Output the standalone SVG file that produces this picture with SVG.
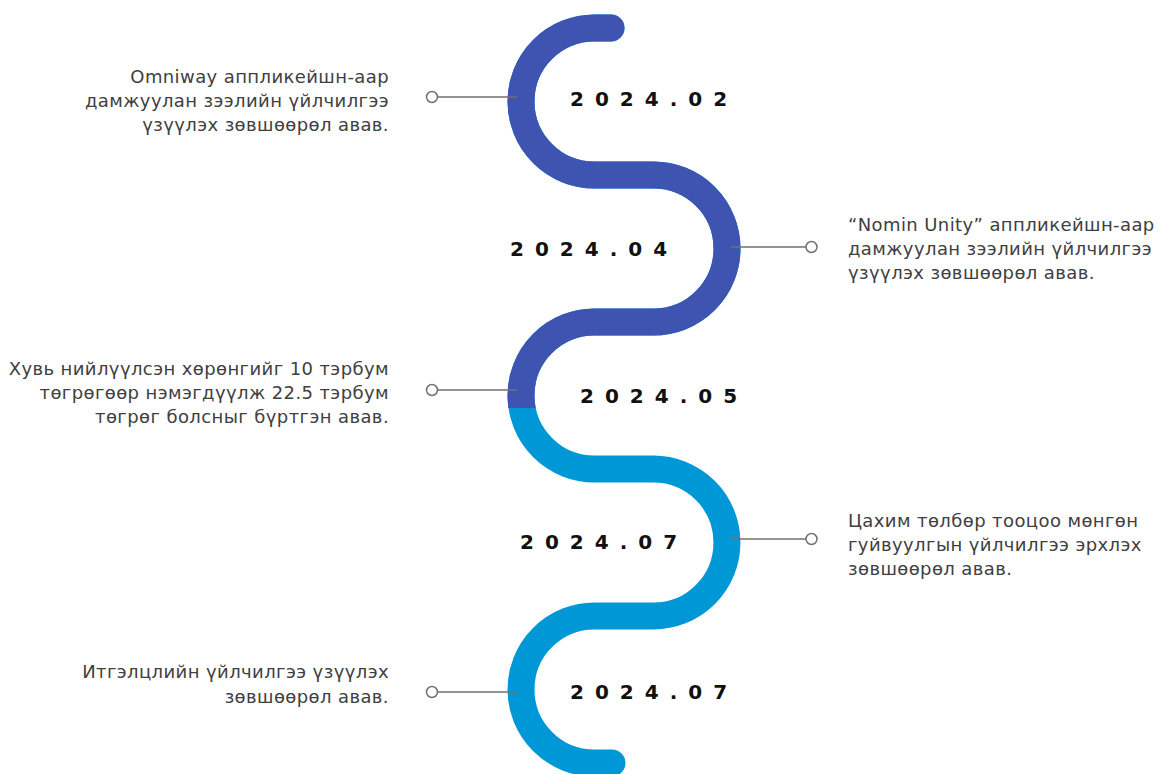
<svg xmlns="http://www.w3.org/2000/svg" width="1163" height="774" viewBox="0 0 1163 774">
<style>
.snake{fill:none;stroke-width:27;stroke-linecap:round;stroke-linejoin:round}
.dark{stroke:#3F54B1}
.light{stroke:#0097D7}
.conn{stroke:#707070;stroke-width:1.5;fill:none}
.dot{fill:#fff;stroke:#707070;stroke-width:1.5}
.desc{font-family:"DejaVu Sans","Noto Sans",sans-serif;font-size:18px;fill:#404040;letter-spacing:0.4px}
.desc.l{text-anchor:end}
.date{font-family:"DejaVu Sans","Liberation Sans",sans-serif;font-size:20px;font-weight:bold;fill:#111;letter-spacing:11px}
</style>
<defs>
<clipPath id="top"><rect x="0" y="0" width="1163" height="408"/></clipPath>
<path id="sn" d="M611,28 L594.5,28 A73.5,73.5 0 0 0 594.5,175 L653.5,175 A73.5,73.5 0 0 1 653.5,322 L594.5,322 A73.5,73.5 0 0 0 594.5,469 L653.5,469 A73.5,73.5 0 0 1 653.5,616 L594.5,616 A73.5,73.5 0 0 0 594.5,763 L612,763"/>
</defs>
<g id="timeline">
<use href="#sn" class="snake light"/>
<use href="#sn" class="snake dark" clip-path="url(#top)"/>
</g>
<g id="connectors">
<line class="conn" x1="437" y1="97" x2="517" y2="97"/>
<line class="conn" x1="731" y1="247" x2="806" y2="247"/>
<line class="conn" x1="437" y1="390" x2="517" y2="390"/>
<line class="conn" x1="731" y1="539" x2="806" y2="539"/>
<line class="conn" x1="437" y1="692" x2="517" y2="692"/>
<circle class="dot" cx="432" cy="97" r="5.5"/>
<circle class="dot" cx="811.5" cy="247" r="5.5"/>
<circle class="dot" cx="432" cy="390" r="5.5"/>
<circle class="dot" cx="811.5" cy="539" r="5.5"/>
<circle class="dot" cx="432" cy="692" r="5.5"/>
</g>
<g id="node1">
<text class="date" x="570" y="106">2024.02</text>
<text class="desc l" x="389"><tspan x="389" y="83">Omniway аппликейшн-аар</tspan><tspan x="389" y="107">дамжуулан зээлийн үйлчилгээ</tspan><tspan x="389" y="131">үзүүлэх зөвшөөрөл авав.</tspan></text>
</g>
<g id="node2">
<text class="date" x="510" y="256">2024.04</text>
<text class="desc" x="848"><tspan x="848" y="231">“Nomin Unity” аппликейшн-аар</tspan><tspan x="848" y="255">дамжуулан зээлийн үйлчилгээ</tspan><tspan x="848" y="279">үзүүлэх зөвшөөрөл авав.</tspan></text>
</g>
<g id="node3">
<text class="date" x="580" y="403">2024.05</text>
<text class="desc l" x="389"><tspan x="389" y="375">Хувь нийлүүлсэн хөрөнгийг 10 тэрбум</tspan><tspan x="389" y="399">төгрөгөөр нэмэгдүүлж 22.5 тэрбум</tspan><tspan x="389" y="423">төгрөг болсныг бүртгэн авав.</tspan></text>
</g>
<g id="node4">
<text class="date" x="520" y="549">2024.07</text>
<text class="desc" x="848"><tspan x="848" y="527">Цахим төлбөр тооцоо мөнгөн</tspan><tspan x="848" y="551">гуйвуулгын үйлчилгээ эрхлэх</tspan><tspan x="848" y="575">зөвшөөрөл авав.</tspan></text>
</g>
<g id="node5">
<text class="date" x="570" y="699">2024.07</text>
<text class="desc l" x="389"><tspan x="389" y="678">Итгэлцлийн үйлчилгээ үзүүлэх</tspan><tspan x="389" y="703">зөвшөөрөл авав.</tspan></text>
</g>
</svg>
